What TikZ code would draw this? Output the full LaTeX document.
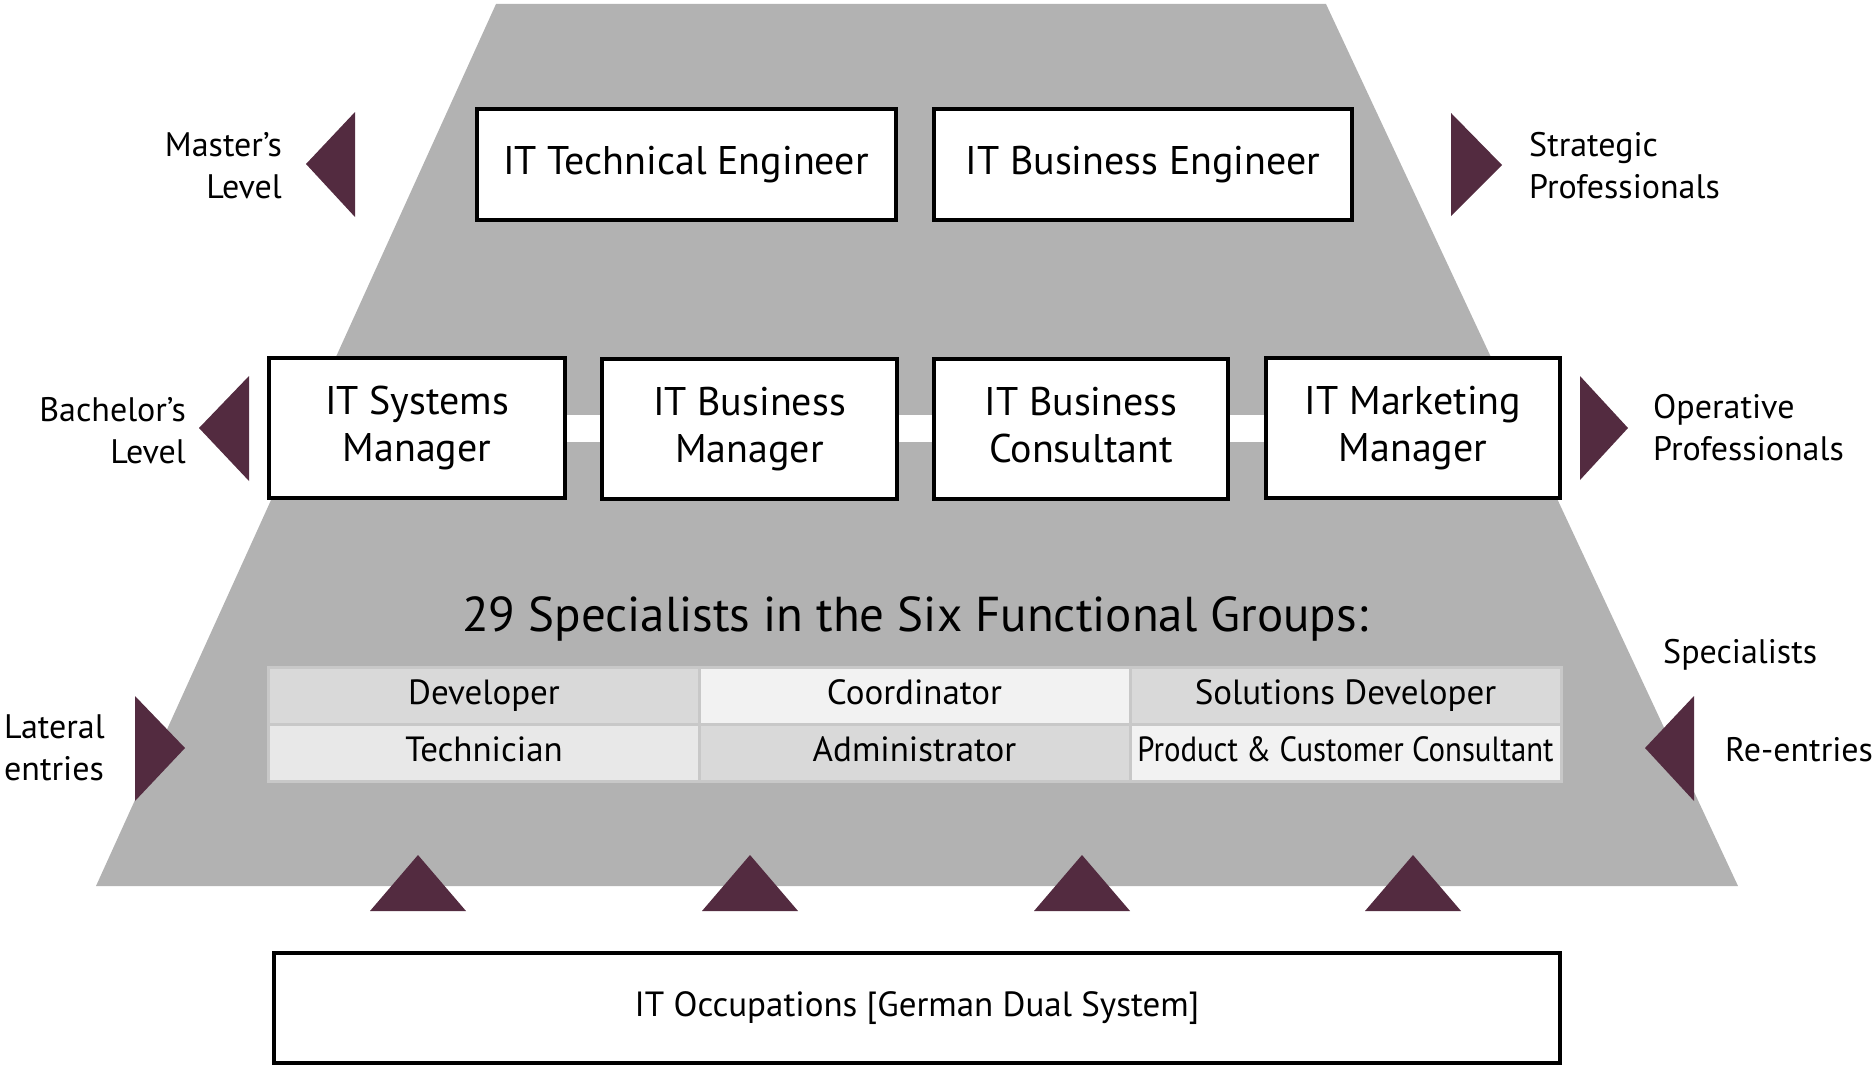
\documentclass[tikz,border=0pt]{standalone}
\usepackage{fontspec}
\setmainfont{PT Sans}
\usetikzlibrary{positioning}
\definecolor{pyramid}{HTML}{B2B2B2}
\definecolor{wine}{HTML}{532B40}
\definecolor{cellline}{HTML}{C8C8C8}
\definecolor{celldark}{HTML}{D9D9D9}
\definecolor{cellmid}{HTML}{E8E8E8}
\definecolor{celllight}{HTML}{F2F2F2}

\begin{document}
\begin{tikzpicture}[x=1pt, y=-1pt,
    level/.style={draw, line width=4pt, fill=white, align=center, inner sep=0pt, text height=29pt, text depth=9pt, font=\fontsize{40}{47}\selectfont},
    twoline/.style={level, text height=76pt, minimum height=140pt},
    cell/.style={draw=cellline, line width=3pt, minimum width=431pt, minimum height=57pt, inner sep=0pt, text height=24pt, text depth=8pt, font=\fontsize{35}{40}\selectfont},
    side/.style={inner sep=0pt, font=\fontsize{34}{42}\selectfont},
    strip/.style={white, line width=27pt},
    wedge/.style={fill=wine}]
                    \useasboundingbox (0, 0) rectangle (1873, 1065);
                    \fill[pyramid] (496, 4) -- (1326, 4) -- (1738, 886) -- (96, 886) -- cycle;

                    % master level
                    \node[level, minimum width=419pt, minimum height=111pt] (m1) at (686, 164) {IT Technical Engineer};
                    \node[level, minimum width=418pt, minimum height=111pt] (m2) at (1143, 164) {IT Business Engineer};

                    % bachelor level
                    \draw[strip] (417, 428) -- (1413, 428);
                    \node[twoline, minimum width=296pt] (b1) at (417, 428) {IT Systems\\Manager};
                    \node[twoline, minimum width=295pt] (b2) at (749.5, 429) {IT Business\\Manager};
                    \node[twoline, minimum width=294pt] (b3) at (1081, 429) {IT Business\\Consultant};
                    \node[twoline, minimum width=294pt] (b4) at (1413, 428) {IT Marketing\\Manager};

                    % specialists
                    \node[font=\fontsize{49}{56}\selectfont] (title) at (915, 619) {29 Specialists in the Six Functional Groups:};
                    \node[cell, fill=celldark] (s1) at (484, 696) {Developer};
                    \node[cell, fill=celllight] (s2) at (914.5, 696) {Coordinator};
                    \node[cell, fill=celldark] (s3) at (1345.5, 696) {Solutions Developer};
                    \node[cell, fill=cellmid] (s4) at (484, 753) {Technician};
                    \node[cell, fill=celldark] (s5) at (914.5, 753) {Administrator};
                    \node[cell, fill=celllight] (s6) at (1345.5, 753) {\addfontfeature{FakeStretch=0.88}Product \& Customer Consultant};

                    \node[level, minimum width=1286pt, minimum height=110pt, text height=25pt, text depth=8pt, font=\fontsize{35}{41}\selectfont] (occ) at (917, 1008) {IT Occupations [German Dual System]};

                    % side labels
                    \node[side, anchor=east, align=right] (master) at (282, 166) {Master’s\\Level};
                    \node[side, anchor=east, align=right] (bachelor) at (186, 431) {Bachelor’s\\Level};
                    \node[side, anchor=west, align=left] (lateral) at (4, 748) {Lateral\\entries};
                    \node[side, anchor=west, align=left] (strategic) at (1529, 166) {Strategic\\Professionals};
                    \node[side, anchor=west, align=left] (operative) at (1653, 428) {Operative\\Professionals};
                    \node[side, anchor=west] (spec) at (1663, 655) {Specialists};
                    \node[side, anchor=west] (reentry) at (1725, 750) {Re-entries};

                    \fill[wedge]
                    (306, 164) -- (355, 112) -- (355, 217) -- cycle
                    (199, 428) -- (249, 376) -- (249, 481) -- cycle
                    (1451, 113) -- (1502, 165) -- (1451, 216) -- cycle
                    (1580, 376) -- (1628, 428) -- (1580, 480) -- cycle
                    (135, 696) -- (185, 748) -- (135, 801) -- cycle
                    (1645, 748) -- (1694, 696) -- (1694, 801) -- cycle;
                    \foreach \x in {418, 750, 1082, 1413}
                        \fill[wedge] (\x - 48, 911) -- (\x, 855) -- (\x + 48, 911) -- cycle;
\end{tikzpicture}
\end{document}
